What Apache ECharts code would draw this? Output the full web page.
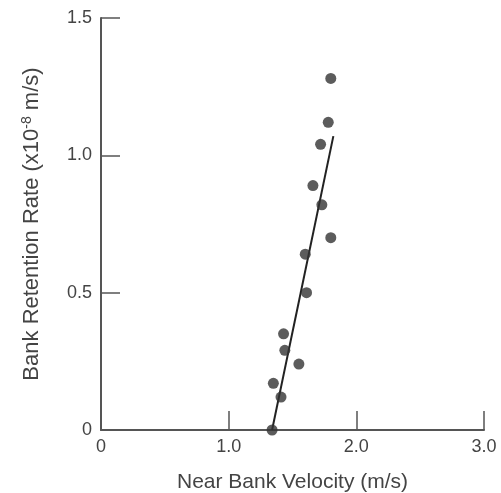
<!DOCTYPE html>
<html>
<head>
<meta charset="utf-8">
<script src="https://cdn.jsdelivr.net/npm/echarts@6/dist/echarts.min.js"></script>
<style>
  html, body { margin: 0; padding: 0; background: #fff; }
  #main { width: 501px; height: 493px; }
</style>
</head>
<body>
<div id="main"></div>
<script>
// measured points (near bank velocity m/s, retention rate x1e-8 m/s)
var velocity = [1.80, 1.78, 1.72, 1.66, 1.73, 1.80, 1.60, 1.61, 1.43, 1.44, 1.55, 1.35, 1.41, 1.34];
var retention = [1.28, 1.12, 1.04, 0.89, 0.82, 0.70, 0.64, 0.50, 0.35, 0.29, 0.24, 0.17, 0.12, 0.0];
// fitted line end points
var fitX = [1.34, 1.82];
var fitY = [0.0, 1.07];

var xTicks = ['0', '1.0', '2.0', '3.0'];
var yTicks = ['0', '0.5', '1.0', '1.5'];

var dom = document.getElementById('main');
var myChart = echarts.init(dom);

var pts = velocity.map(function (v, i) { return [v, retention[i]]; });
var fit = fitX.map(function (v, i) { return [v, fitY[i]]; });

var axisColor = '#555';
var textColor = '#444';
var font = 'Liberation Sans, Arial, sans-serif';

var option = {
    backgroundColor: '#fff',
    animation: false,
    grid: { left: 101, right: 17, top: 18, bottom: 63, outerBoundsMode: 'none', containLabel: false },
    xAxis: {
        type: 'value',
        min: 0,
        max: 3,
        interval: 1,
        name: 'Near Bank Velocity (m/s)',
        nameLocation: 'middle',
        nameGap: 42,
        nameTextStyle: { color: textColor, fontSize: 21, fontFamily: font },
        axisLine: { show: true, lineStyle: { color: axisColor, width: 2 } },
        axisTick: { show: true, inside: true, length: 19, lineStyle: { color: axisColor, width: 1.5 } },
        splitLine: { show: false },
        axisLabel: {
            color: textColor, fontSize: 18, fontFamily: font, margin: 8,
            formatter: function (v) { return xTicks[Math.round(v)]; }
        }
    },
    yAxis: {
        type: 'value',
        min: 0,
        max: 1.5,
        interval: 0.5,
        name: 'Bank Retention Rate (x10{sup|-8} m/s)',
        nameLocation: 'middle',
        nameGap: 57,
        nameRotate: 90,
        nameTextStyle: {
            color: textColor, fontSize: 22, fontFamily: font,
            rich: {
                sup: { fontSize: 14, color: textColor, fontFamily: font, verticalAlign: 'top', padding: [0, 0, 10, 0] }
            }
        },
        axisLine: { show: true, lineStyle: { color: axisColor, width: 2 } },
        axisTick: { show: true, inside: true, length: 19, lineStyle: { color: axisColor, width: 1.5 } },
        splitLine: { show: false },
        axisLabel: {
            color: textColor, fontSize: 18, fontFamily: font, margin: 9,
            formatter: function (v) { return yTicks[Math.round(v * 2)]; }
        }
    },
    series: [
        {
            type: 'line',
            data: fit,
            symbol: 'none',
            lineStyle: { color: '#222', width: 2 },
            z: 2
        },
        {
            type: 'scatter',
            data: pts,
            symbol: 'circle',
            symbolSize: 11,
            itemStyle: { color: '#333' },
            z: 3
        }
    ]
};
myChart.setOption(option, true);
</script>
</body>
</html>
